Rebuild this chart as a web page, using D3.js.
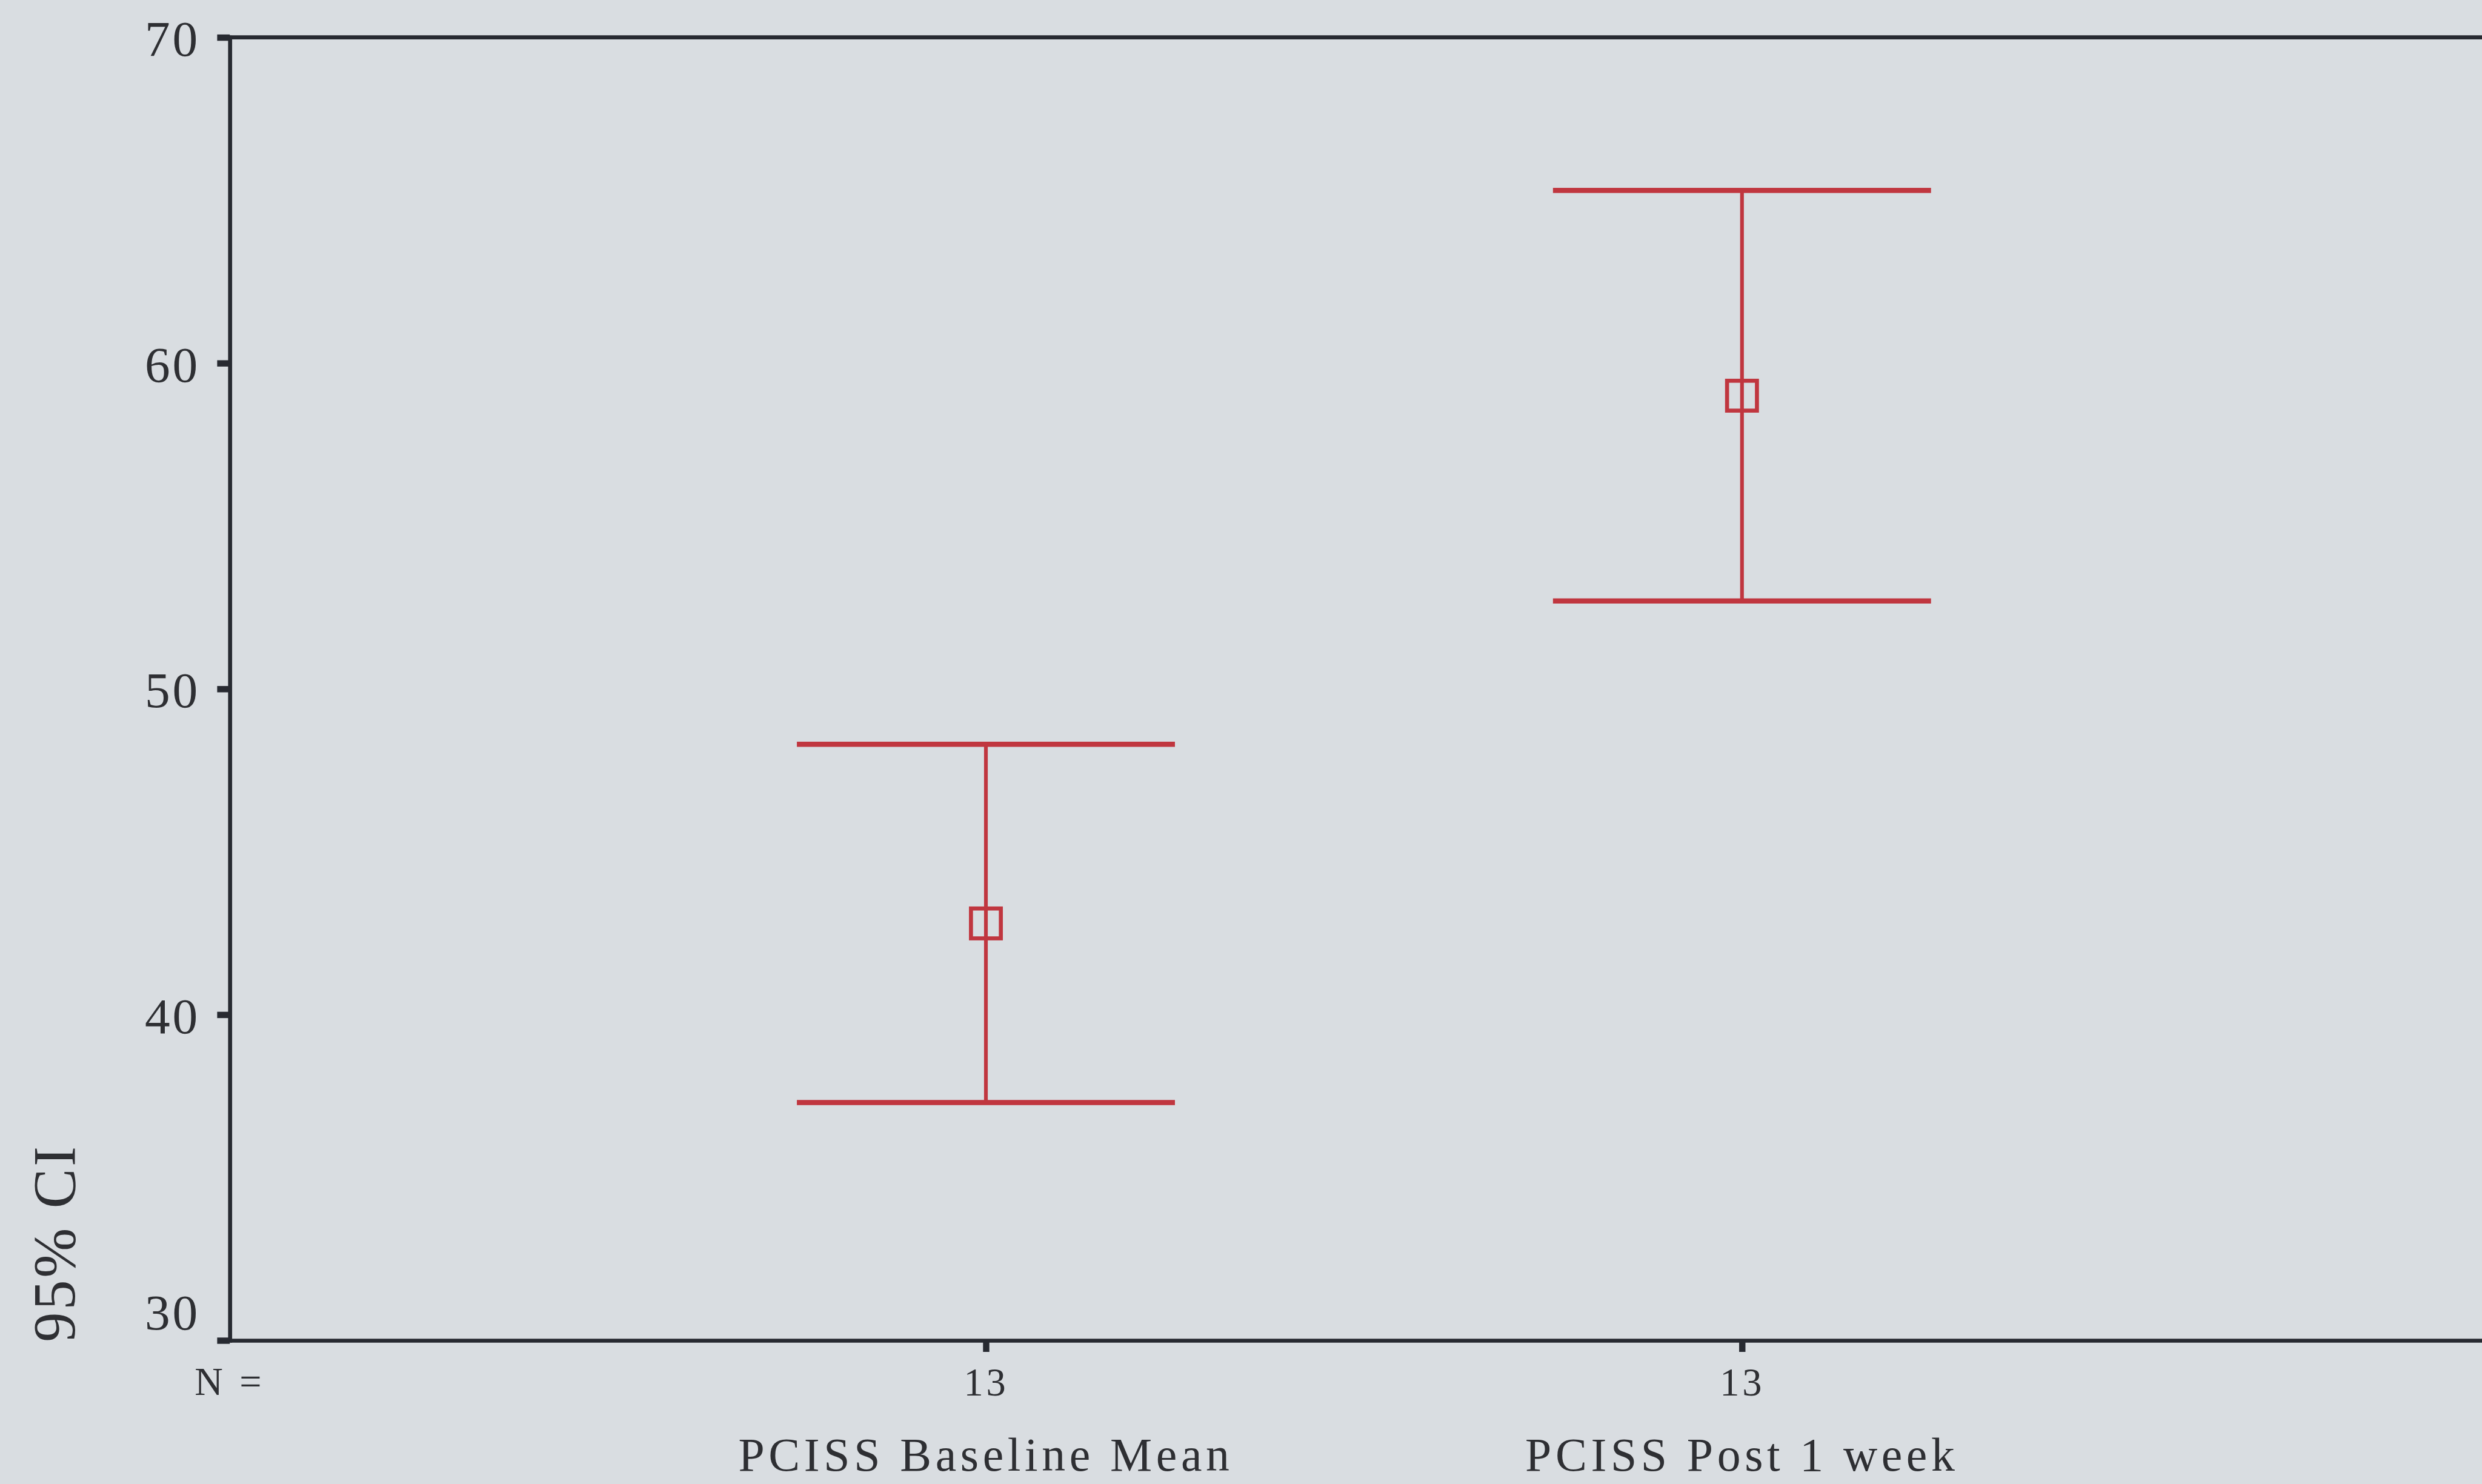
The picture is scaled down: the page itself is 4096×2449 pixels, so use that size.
<!DOCTYPE html>
<html>
<head>
<meta charset="utf-8">
<script src="https://cdn.jsdelivr.net/npm/d3@7"></script>
<style>
  html, body { margin: 0; padding: 0; background: #d9dde1; overflow: hidden; }
  svg { display: block; }
</style>
</head>
<body>
<script>
// Mean PCISS score with 95% confidence interval, baseline vs. one week later
const categories = ["PCISS Baseline Mean", "PCISS Post 1 week"];
const counts = [13, 13];
const means = [42.8, 59.0];
const lower = [37.3, 52.7];
const upper = [48.3, 65.3];
const yTicks = [30, 40, 50, 60, 70];
const yTitle = "95% CI";

const W = 4096, H = 2449;
const S = W / 4320; // drawing is laid out on a 4320-wide canvas, then scaled

const ink = "#272a31";
const textInk = "#2e2f33";
const red = "#c0363f";
const serif = "'Liberation Serif', 'Times New Roman', serif";

const svg = d3.select("body").append("svg")
  .attr("width", W).attr("height", H)
  .style("background", "#d9dde1");

const g = svg.append("g").attr("transform", `scale(${S})`);

const plot = { left: 400, right: 4348, top: 65, bottom: 2333 };

const y = d3.scaleLinear().domain([30, 70]).range([plot.bottom, plot.top]);
const x = d3.scalePoint().domain(categories).range([plot.left, plot.right]).padding(1);

// top frame line
g.append("line")
  .attr("x1", plot.left).attr("x2", plot.right)
  .attr("y1", plot.top).attr("y2", plot.top)
  .attr("stroke", ink).attr("stroke-width", 7).attr("stroke-linecap", "square");

// y axis
const yAxis = g.append("g")
  .attr("transform", `translate(${plot.left},0)`)
  .call(d3.axisLeft(y).tickValues(yTicks).tickSize(22).tickPadding(30).tickSizeOuter(0));
yAxis.select(".domain").attr("stroke", ink).attr("stroke-width", 7).attr("stroke-linecap", "square");
yAxis.selectAll(".tick line").attr("stroke", ink).attr("stroke-width", 11);
yAxis.selectAll(".tick text")
  .attr("fill", textInk)
  .style("font-family", serif)
  .style("font-size", "88px")
  .style("letter-spacing", "4px")
  .attr("dy", d => d === yTicks[0] ? "-0.22em" : "0.36em");

// x axis: sample sizes under each category
const xAxis = g.append("g")
  .attr("transform", `translate(0,${plot.bottom})`)
  .call(d3.axisBottom(x).tickSize(20).tickPadding(28).tickSizeOuter(0)
    .tickFormat((d, i) => counts[i]));
xAxis.select(".domain").attr("stroke", ink).attr("stroke-width", 7);
xAxis.selectAll(".tick line").attr("stroke", ink).attr("stroke-width", 11);
xAxis.selectAll(".tick text")
  .attr("fill", textInk)
  .style("font-family", serif)
  .style("font-size", "68px")
  .style("letter-spacing", "5px");

g.append("text")
  .attr("x", plot.left).attr("y", 2428)
  .attr("text-anchor", "middle")
  .attr("fill", textInk)
  .style("font-family", serif)
  .style("font-size", "68px")
  .style("letter-spacing", "6px")
  .text("N =");

// category names
g.append("g").selectAll("text")
  .data(categories)
  .join("text")
  .attr("x", d => x(d))
  .attr("y", 2560)
  .attr("text-anchor", "middle")
  .attr("fill", textInk)
  .style("font-family", serif)
  .style("font-size", "82px")
  .style("letter-spacing", "7px")
  .text(d => d);

// y axis title
g.append("text")
  .attr("transform", `translate(130,2336) rotate(-90)`)
  .attr("text-anchor", "start")
  .attr("fill", textInk)
  .style("font-family", serif)
  .style("font-size", "104px")
  .style("letter-spacing", "4px")
  .text(yTitle);

// error bars
const capHalf = x.step() * 0.25;
const bars = g.append("g").selectAll("g")
  .data(categories.map((c, i) => ({ c, mean: means[i], lo: lower[i], hi: upper[i] })))
  .join("g");

bars.append("line")
  .attr("x1", d => x(d.c)).attr("x2", d => x(d.c))
  .attr("y1", d => y(d.lo)).attr("y2", d => y(d.hi))
  .attr("stroke", red).attr("stroke-width", 6.5);

bars.append("line")
  .attr("x1", d => x(d.c) - capHalf).attr("x2", d => x(d.c) + capHalf)
  .attr("y1", d => y(d.hi)).attr("y2", d => y(d.hi))
  .attr("stroke", red).attr("stroke-width", 9);

bars.append("line")
  .attr("x1", d => x(d.c) - capHalf).attr("x2", d => x(d.c) + capHalf)
  .attr("y1", d => y(d.lo)).attr("y2", d => y(d.lo))
  .attr("stroke", red).attr("stroke-width", 9);

const box = 52;
bars.append("rect")
  .attr("x", d => x(d.c) - box / 2)
  .attr("y", d => y(d.mean) - box / 2)
  .attr("width", box).attr("height", box)
  .attr("fill", "none")
  .attr("stroke", red).attr("stroke-width", 7);
</script>
</body>
</html>
